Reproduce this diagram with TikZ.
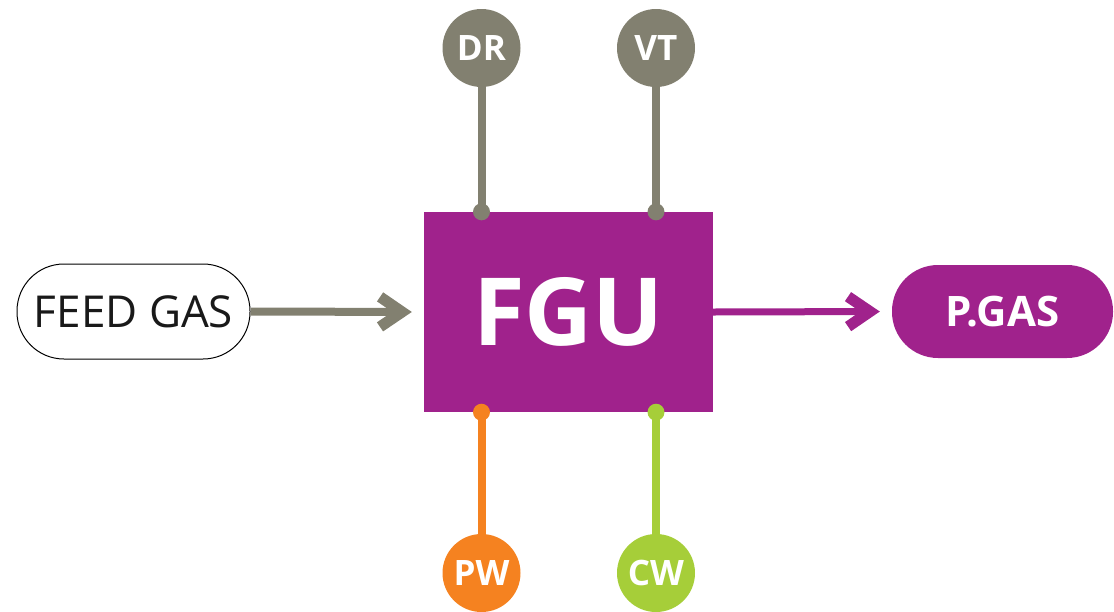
\documentclass[tikz,border=0pt]{standalone}
\usepackage{fontspec}
\setmainfont{Open Sans}
\usetikzlibrary{arrows.meta}
\definecolor{cgray}{RGB}{130,128,112}
\definecolor{cpurple}{RGB}{160,34,140}
\definecolor{corange}{RGB}{245,130,32}
\definecolor{cgreen}{RGB}{166,206,57}
\tikzset{
  util/.style={circle,fill=#1,minimum size=78pt,inner sep=0pt,text=white,font=\fontsize{35}{37}\selectfont\bfseries},
  pin/.style={circle,fill=#1,minimum size=17pt,inner sep=0pt},
  stem/.style={draw=#1,line width=8pt},
  flow/.style={line width=#1},
  chev/.style={-{Straight Barb[length=22pt,width=30pt,line width=11pt]}},
}
\begin{document}
\begin{tikzpicture}[x=1pt,y=-1pt]
\useasboundingbox (0,0) rectangle (1114,611);
\node[rectangle,fill=cpurple,minimum width=289pt,minimum height=200pt,inner sep=0pt,text=white,font=\fontsize{94}{100}\selectfont\bfseries] (fgu) at (568.5,312) {FGU};
\node[rectangle,draw=black,line width=1pt,rounded corners=47pt,minimum width=233pt,minimum height=95pt,inner sep=0pt,font=\fontsize{44}{48}\selectfont,text=black!90] (feed) at (133.5,311.5) {FEED GAS};
\node[rectangle,fill=cpurple,rounded corners=46pt,minimum width=221pt,minimum height=93pt,inner sep=0pt,font=\fontsize{42}{46}\selectfont\bfseries,text=white] (pgas) at (1002.5,311.5) {P.GAS};
\node[util=cgray] (dr) at (481.5,48) {DR};
\node[util=cgray] (vt) at (656,48) {VT};
\node[util=corange] (pw) at (481.5,573) {PW};
\node[util=cgreen] (cw) at (656,573) {CW};
\draw[stem=cgray] (dr) -- (dr |- fgu.north) node[pin=cgray] (p1) {};
\draw[stem=cgray] (vt) -- (vt |- fgu.north) node[pin=cgray] (p2) {};
\draw[stem=corange] (pw) -- (pw |- fgu.south) node[pin=corange] (p3) {};
\draw[stem=cgreen] (cw) -- (cw |- fgu.south) node[pin=cgreen] (p4) {};
\draw[draw=cgray,flow=8pt,chev,shorten >=12pt] (feed.east) -- (fgu.west);
\draw[draw=cpurple,flow=7pt,chev,shorten >=12pt] (fgu.east) -- (pgas.west);
\end{tikzpicture}
\end{document}
